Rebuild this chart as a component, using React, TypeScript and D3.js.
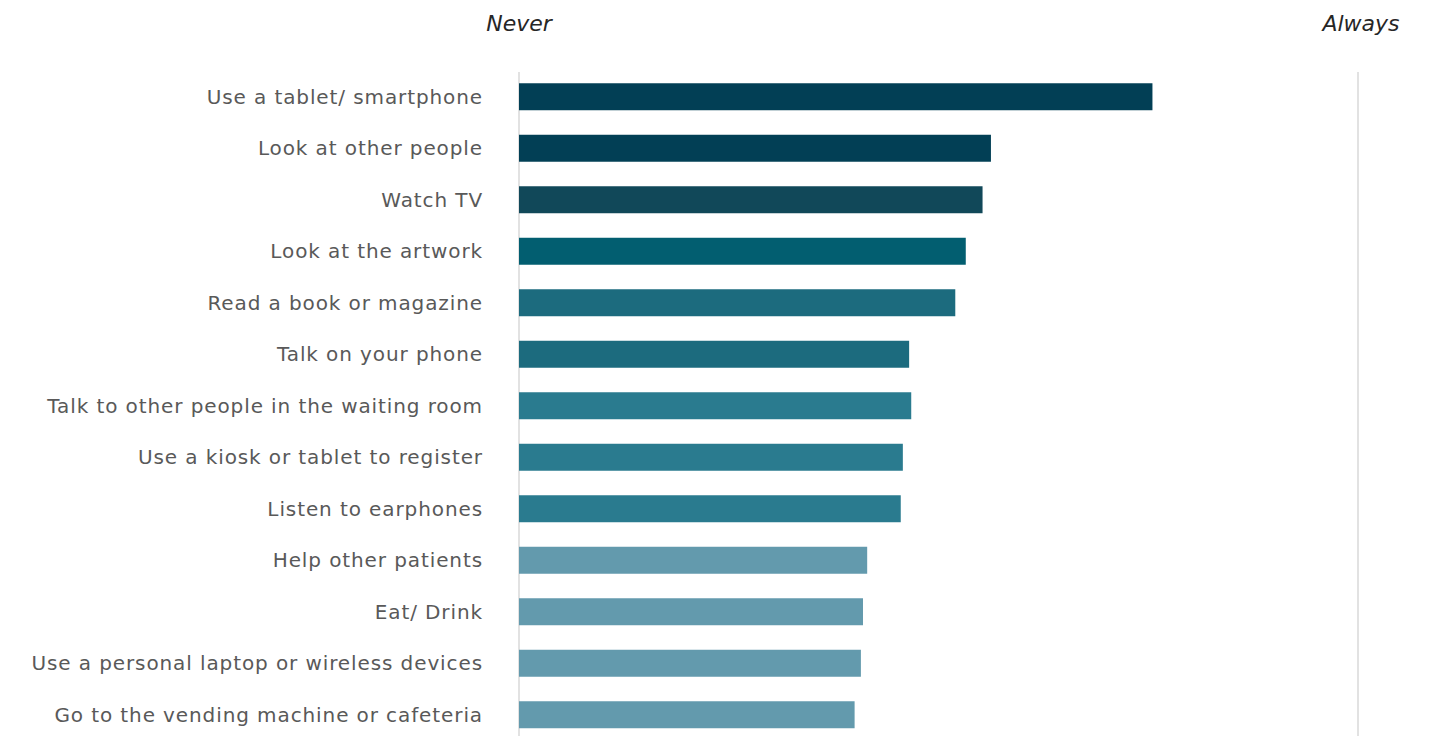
import React from "react";
import * as d3 from "d3";

const categories = [
  "Use a tablet/ smartphone",
  "Look at other people",
  "Watch TV",
  "Look at the artwork",
  "Read a book or magazine",
  "Talk on your phone",
  "Talk to other people in the waiting room",
  "Use a kiosk or tablet to register",
  "Listen to earphones",
  "Help other patients",
  "Eat/ Drink",
  "Use a personal laptop or wireless devices",
  "Go to the vending machine or cafeteria",
];
const values = [4.02, 3.25, 3.21, 3.13, 3.08, 2.86, 2.87, 2.83, 2.82, 2.66, 2.64, 2.63, 2.6];
const colors = [
  "#023F55", "#023F55", "#114859", "#025E70", "#1C6B7E", "#1C6B7E", "#2A7B8F",
  "#2A7B8F", "#2A7B8F", "#639AAD", "#639AAD", "#639AAD", "#639AAD",
];
const axisLabels = ["Never", "Always"];
const domain = [1, 5];

export default function App() {
  const W = 1444, H = 736;
  const x = d3.scaleLinear().domain(domain).range([519, 1358]);
  const y = d3
    .scaleBand<string>()
    .domain(categories)
    .range([71, 71 + 13 * 51.5])
    .paddingInner(0.476)
    .paddingOuter(0.238);
  const font = "'DejaVu Sans', sans-serif";
  return (
    <svg width={W} height={H} style={{ position: "absolute", left: 0, top: 0 }}>
      <rect width={W} height={H} fill="#fff" />
      {domain.map((d, i) => (
        <line key={i} x1={x(d)} x2={x(d)} y1={72} y2={H} stroke="#d9d9d9" strokeWidth={1.5} />
      ))}
      {axisLabels.map((t, i) => (
        <text
          key={t}
          x={x(domain[i]) + (i === 0 ? 0 : 3)}
          y={31}
          textAnchor="middle"
          fontFamily={font}
          fontStyle="italic"
          fontSize={22}
          fill="#262626"
        >
          {t}
        </text>
      ))}
      {categories.map((c, i) => (
        <g key={c}>
          <rect
            x={x(domain[0])}
            y={y(c)}
            width={x(values[i]) - x(domain[0])}
            height={y.bandwidth()}
            fill={colors[i]}
          />
          <text
            x={483}
            y={(y(c) as number) + y.bandwidth() / 2}
            dy="0.35em"
            textAnchor="end"
            fontFamily={font}
            fontSize={20}
            letterSpacing={0.9}
            fill="#595959"
          >
            {c}
          </text>
        </g>
      ))}
    </svg>
  );
}
